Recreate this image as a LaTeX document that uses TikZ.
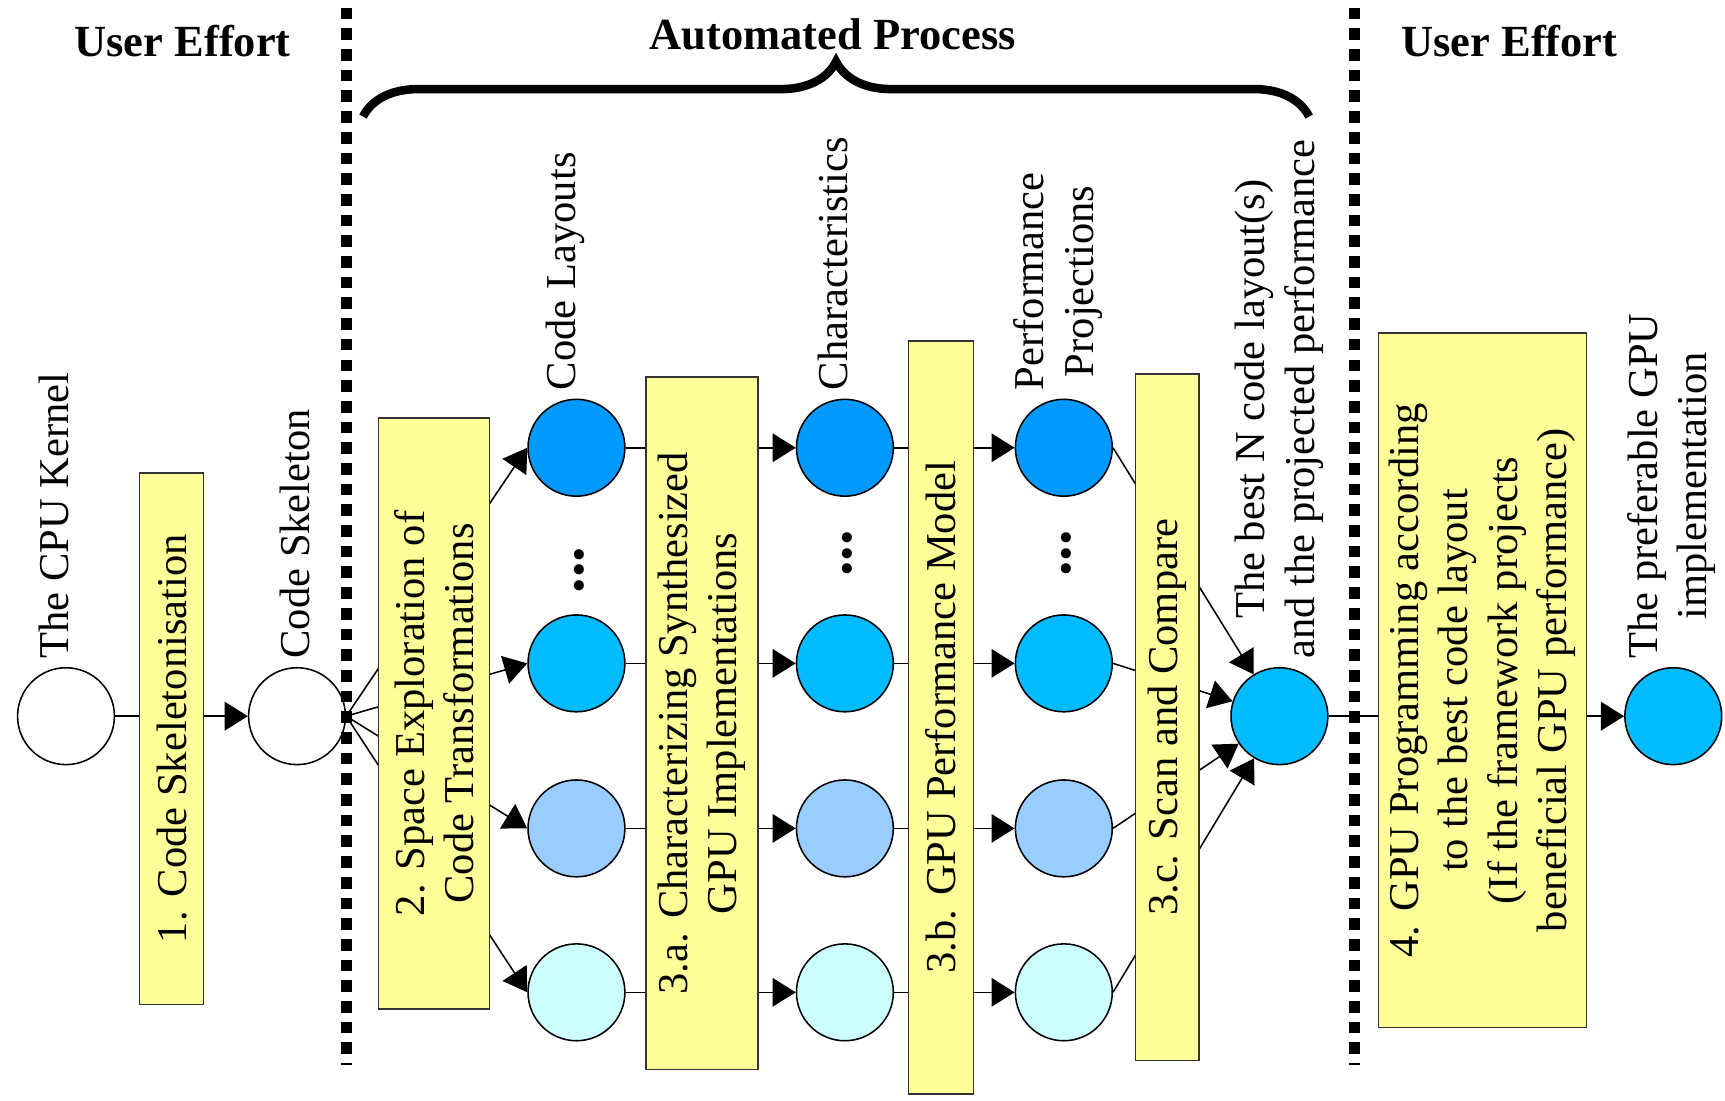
\documentclass[tikz,border=0pt]{standalone}
\usepackage{fontspec}
\setmainfont{Liberation Serif}
\usetikzlibrary{arrows.meta,decorations.pathreplacing}

\definecolor{stagefill}{RGB}{255,255,153}
\definecolor{rowone}{RGB}{0,153,255}
\definecolor{rowtwo}{RGB}{0,187,255}
\definecolor{rowthree}{RGB}{153,204,255}
\definecolor{rowfour}{RGB}{204,255,255}

\begin{document}
\begin{tikzpicture}[x=0.01cm,y=-0.01cm]

  \tikzstyle{state}=[circle,draw,thin,minimum size=0.88cm,inner sep=0pt]
  \tikzstyle{stage}=[draw=black!80,fill=stagefill,rotate=90,align=center,inner sep=0pt,font=\fontsize{11}{12.8}\selectfont]
  \tikzstyle{tag}=[rotate=90,anchor=west,align=center,inner sep=2pt,font=\fontsize{11}{12.8}\selectfont]
  \tikzstyle{flow}=[thin,-{Triangle[length=0.21cm,width=0.26cm]}]
  \tikzstyle{border}=[line width=0.1cm,dash pattern=on 0.106cm off 0.082cm]
  \tikzstyle{header}=[font=\fontsize{11.5}{13}\selectfont\bfseries]
  \tikzstyle{more}=[rotate=90,inner sep=0pt,font=\fontsize{16}{16}\selectfont\bfseries]

  \useasboundingbox (0,0) rectangle (1568,1000);

  % ====================
  % Parameters
  % ====================
  \def\rowa{407}  % y of the first row of layouts
  \def\rowb{603}
  \def\rowc{753}
  \def\rowd{902}
  \def\cola{524}  % x of the code layouts
  \def\colb{768}  % x of the characteristics
  \def\colc{967}  % x of the performance projections
  \def\midy{651}  % y of the main flow
  % ====================


  % ====================
  % States
  % ====================
  \node (cpu) [state] at (60,\midy) {};
  \node (skel) [state] at (270,\midy) {};

  % Code layouts
  \node (lay1) [state,fill=rowone] at (\cola,\rowa) {};
  \node (lay2) [state,fill=rowtwo] at (\cola,\rowb) {};
  \node (lay3) [state,fill=rowthree] at (\cola,\rowc) {};
  \node (lay4) [state,fill=rowfour] at (\cola,\rowd) {};

  % Characteristics
  \node (char1) [state,fill=rowone] at (\colb,\rowa) {};
  \node (char2) [state,fill=rowtwo] at (\colb,\rowb) {};
  \node (char3) [state,fill=rowthree] at (\colb,\rowc) {};
  \node (char4) [state,fill=rowfour] at (\colb,\rowd) {};

  % Performance projections
  \node (proj1) [state,fill=rowone] at (\colc,\rowa) {};
  \node (proj2) [state,fill=rowtwo] at (\colc,\rowb) {};
  \node (proj3) [state,fill=rowthree] at (\colc,\rowc) {};
  \node (proj4) [state,fill=rowfour] at (\colc,\rowd) {};

  \node (best) [state,fill=rowtwo] at (1163,\midy) {};
  \node (pref) [state,fill=rowtwo] at (1521,\midy) {};

  % ====================
  % Flow
  % ====================
  \draw[flow] (cpu) -- (skel);

  \draw[flow] (skel.east) -- (lay1.west);
  \draw[flow] (skel.east) -- (lay2.west);
  \draw[flow] (skel.east) -- (lay3.west);
  \draw[flow] (skel.east) -- (lay4.west);

  \draw[flow] (lay1) -- (char1);
  \draw[flow] (lay2) -- (char2);
  \draw[flow] (lay3) -- (char3);
  \draw[flow] (lay4) -- (char4);

  \draw[flow] (char1) -- (proj1);
  \draw[flow] (char2) -- (proj2);
  \draw[flow] (char3) -- (proj3);
  \draw[flow] (char4) -- (proj4);

  \draw[flow] (proj1.east) -- (best);
  \draw[flow] (proj2.east) -- (best);
  \draw[flow] (proj3.east) -- (best);
  \draw[flow] (proj4.east) -- (best);

  \draw[flow] (best) -- (pref);

  % ====================
  % Stages
  % ====================
  \node (skelbox) [stage,minimum width=4.83cm,minimum height=0.58cm] at (156,671.5) {1. Code Skeletonisation};
  \node (explbox) [stage,minimum width=5.37cm,minimum height=1.01cm] at (394.5,648.5) {2. Space Exploration of\\Code Transformations};
  \node (charbox) [stage,minimum width=6.29cm,minimum height=1.02cm] at (638,657.5) {3.a. Characterizing Synthesized\\GPU Implementations};
  \node (modelbox) [stage,minimum width=6.84cm,minimum height=0.59cm] at (855.5,652) {3.b. GPU Performance Model};
  \node (scanbox) [stage,minimum width=6.24cm,minimum height=0.58cm] at (1061,652) {3.c. Scan and Compare};
  \node (progbox) [stage,minimum width=6.31cm,minimum height=1.89cm] at (1347.5,618.5) {4. GPU Programming according\\to the best code layout\\(If the framework projects\\beneficial GPU performance)};

  % Labels
  \node (cpulbl) [tag,yshift=3pt] at (cpu.north) {The CPU Kernel};
  \node (skellbl) [tag,yshift=0.5pt] at (skel.north) {Code Skeleton};
  \node (laylbl) [tag,yshift=3pt] at (lay1.north) {Code Layouts};
  \node (charlbl) [tag,yshift=3pt] at (char1.north) {Characteristics};
  \node (projlbl) [tag,yshift=1.5pt] at (proj1.north) {Performance\\Projections};
  \node (bestlbl) [tag] at (best.north) {The best N code layout(s)\\and the projected performance};
  \node (preflbl) [tag,yshift=0.5pt] at (pref.north) {The preferable GPU\\implementation};

  % Dots
  \node (moreone) [more] at (527,518) {...};
  \node (moretwo) [more] at (770,503) {...};
  \node (morethree) [more] at (969,503) {...};

  % ====================
  % Borders and headers
  % ====================
  \draw[border] (315,7) -- (315,968);
  \draw[border] (1231,7) -- (1231,968);

  \draw[decorate,decoration={brace,amplitude=0.5cm},line width=2.2pt] (330,106) -- (1190,106);
  \node (userleft) [header] at (166,37) {User Effort};
  \node (auto) [header] at (757,31) {Automated Process};
  \node (userright) [header] at (1372,37) {User Effort};
\end{tikzpicture}
\end{document}
